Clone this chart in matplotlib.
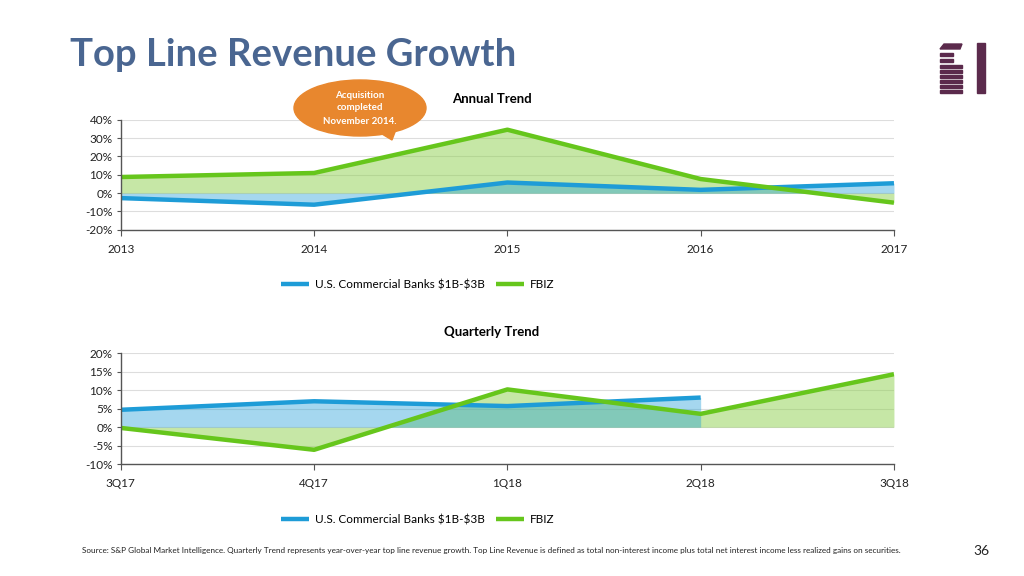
import matplotlib
matplotlib.use('Agg')
import matplotlib.pyplot as plt
from matplotlib.patches import Ellipse, Polygon, Rectangle

plt.rcParams['font.family'] = ['Lato', 'DejaVu Sans']

# annual trend data (%)
years = ['2013', '2014', '2015', '2016', '2017']
banks_annual = [-2.7, -6.3, 5.8, 1.8, 5.4]
fbiz_annual = [8.8, 11.0, 34.6, 7.7, -5.2]

# quarterly trend data (%)
quarters = ['3Q17', '4Q17', '1Q18', '2Q18', '3Q18']
banks_q = [4.7, 7.0, 5.7, 8.0, None]
fbiz_q = [-0.2, -6.1, 10.2, 3.6, 14.3]

blue = '#1E9CD7'
green = '#66C61C'
gfill = '#8FD14F'

fig = plt.figure(figsize=(10.24, 5.76), dpi=100)

def trend(ax, labels, banks, fbiz, ylim, step, title):
    x = list(range(len(labels)))
    ax.fill_between(x, 0, fbiz, color=gfill, alpha=0.5, lw=0)
    bx = [i for i, v in zip(x, banks) if v is not None]
    bv = [v for v in banks if v is not None]
    ax.fill_between(bx, 0, bv, color=blue, alpha=0.4, lw=0)
    ax.plot(bx, bv, color=blue, lw=3.2, label=r'U.S. Commercial Banks \$1B-\$3B', solid_capstyle='butt')
    ax.plot(x, fbiz, color=green, lw=3.2, label='FBIZ', solid_capstyle='butt')
    ax.set_xlim(0, len(labels) - 1)
    ax.set_ylim(*ylim)
    yt = list(range(ylim[0], ylim[1] + 1, step))
    ax.set_yticks(yt)
    ax.set_yticklabels(['%d%%' % v for v in yt], fontsize=8.5, color='#222222')
    ax.set_xticks(x)
    ax.set_xticklabels(labels, fontsize=8.5, color='#222222')
    ax.tick_params(axis='x', length=4, pad=6, color='#555555')
    ax.tick_params(axis='y', length=3, pad=3, color='#555555')
    ax.grid(axis='y', color='#DDDDDD', lw=0.8)
    ax.set_axisbelow(True)
    for s in ['top', 'right']:
        ax.spines[s].set_visible(False)
    for s in ['left', 'bottom']:
        ax.spines[s].set_color('#555555')
        ax.spines[s].set_linewidth(1.0)
    ax.set_title(title, fontsize=9.5, fontweight='bold', x=0.48, pad=12)
    ax.legend(loc='center', bbox_to_anchor=(0.384, -0.5), ncol=2, frameon=False,
              fontsize=8.5, handlelength=2.4, columnspacing=0.9, handletextpad=0.5)

ax1 = fig.add_axes([0.118, 0.601, 0.755, 0.191])
trend(ax1, years, banks_annual, fbiz_annual, (-20, 40), 10, 'Annual Trend')

ax2 = fig.add_axes([0.118, 0.194, 0.755, 0.193])
trend(ax2, quarters, banks_q, fbiz_q, (-10, 20), 5, 'Quarterly Trend')

# slide title
fig.text(0.068, 0.905, 'Top Line Revenue Growth', fontsize=27.5, fontweight='bold',
         color='#4A6691', va='center', ha='left')

# acquisition callout
orange = '#E8872E'
W, H = 1024.0, 576.0
fig.patches.append(Ellipse((360 / W, 1 - 108 / H), 132 / W, 56 / H,
                           transform=fig.transFigure, color=orange, zorder=5))
fig.patches.append(Polygon([(372 / W, 1 - 128 / H), (398 / W, 1 - 124 / H), (392 / W, 1 - 140 / H)],
                           transform=fig.transFigure, color=orange, zorder=5))
for txt, yy in [('Acquisition', 95), ('completed', 108), ('November 2014.', 122)]:
    fig.text(360 / W, 1 - yy / H, txt, fontsize=7, fontweight='bold', color='white',
             ha='center', va='center', zorder=6)

# logo
purple = '#5B2A4C'
fig.patches.append(Rectangle((977 / W, 1 - 93 / H), 8 / W, 50 / H, transform=fig.transFigure, color=purple))
fig.patches.append(Polygon([(940 / W, 1 - 49 / H), (944 / W, 1 - 44 / H), (962 / W, 1 - 44 / H),
                            (960 / W, 1 - 49 / H)], transform=fig.transFigure, color=purple))
for i, yy in enumerate([53, 59, 65, 70, 75, 80, 85, 90]):
    right = 953 if i < 2 else 962
    fig.patches.append(Rectangle((940 / W, 1 - (yy + 2.5) / H), (right - 940) / W, 2.5 / H,
                                 transform=fig.transFigure, color=purple))

# footnote
fig.text(82 / W, 1 - 551 / H,
         'Source: S&P Global Market Intelligence. Quarterly Trend represents year-over-year top line revenue growth. '
         'Top Line Revenue is defined as total non-interest income plus total net interest income less realized gains on securities.',
         fontsize=5.85, color='#222222', va='center', ha='left')
fig.text(981 / W, 1 - 551 / H, '36', fontsize=10, color='#222222', va='center', ha='center')

fig.savefig('out.png', dpi=100)
